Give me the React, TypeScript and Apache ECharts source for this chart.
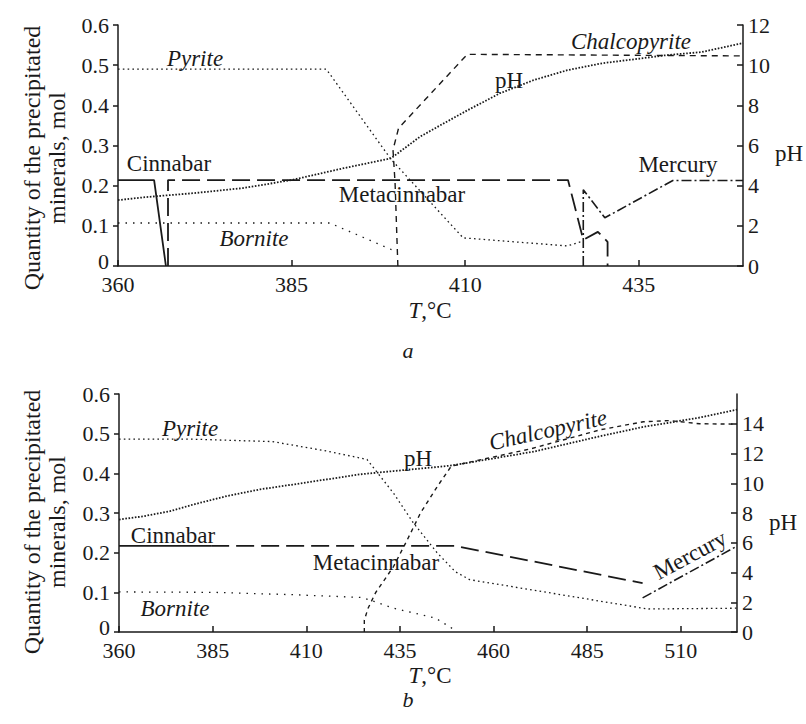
import React, { useEffect, useRef } from 'react';
import * as echarts from 'echarts';

const FONT = "'Liberation Serif', 'Times New Roman', Times, serif";
const INK = '#1a1a1a';

// ---------- Panel a (T 360–450 °C) ----------
const pyriteA = [[360, 0.49], [390, 0.49], [399.3, 0.266], [409.7, 0.07], [424.7, 0.05], [427, 0.062]];
const borniteA = [[360, 0.107], [390.5, 0.107], [399.5, 0.04]];
const chalcopyriteA = [[400.3, 0], [399.9, 0.206], [399.6, 0.289], [400.4, 0.343], [410.3, 0.527], [450, 0.523]];
const cinnabarA = [[360, 0.214], [365.2, 0.214], [366.9, 0]];
const metacinnabarA = [[367.2, 0], [367.2, 0.214], [424.8, 0.214], [427, 0.065], [429.1, 0.085], [430.5, 0.06], [430.5, 0]];
const mercuryA = [[427, 0], [427, 0.19], [430.1, 0.12], [439.9, 0.213], [450, 0.213]];
const pHA = [[360, 3.28], [364, 3.43], [371, 3.63], [378, 3.88], [385, 4.28], [392.5, 4.87], [399.3, 5.36], [403.5, 6.44], [406.9, 7.1], [410.3, 7.75], [415, 8.6], [419.8, 9.25], [424.7, 9.75], [429.8, 10.1], [434.5, 10.3], [439, 10.5], [444, 10.65], [450, 11.1]];

// ---------- Panel b (T 360–525 °C) ----------
const pyriteB = [[360, 0.486], [380, 0.486], [401, 0.48], [415.6, 0.456], [426.2, 0.435], [433.3, 0.35], [438.6, 0.275], [444.9, 0.2], [449.8, 0.152], [453.6, 0.132], [501.2, 0.058], [525, 0.06]];
const borniteB = [[360, 0.101], [385, 0.1], [406.5, 0.094], [425, 0.087], [433.3, 0.06], [444.5, 0.035], [450, 0.003]];
const chalcopyriteB = [[425.5, 0], [425.5, 0.03], [426.5, 0.06], [428.5, 0.099], [433.3, 0.165], [437, 0.233], [440.5, 0.3], [445, 0.367], [448.7, 0.418], [470, 0.462], [488.6, 0.51], [500, 0.53], [507, 0.533], [515, 0.525], [525, 0.524]];
const cinnabarB = [[360, 0.217], [384.6, 0.217]];
const metacinnabarB = [[384.6, 0.217], [449.8, 0.217], [499.8, 0.123]];
const mercuryB = [[499.8, 0.086], [524.7, 0.215]];
const pHB = [[360, 7.56], [366.5, 7.78], [373.6, 8.12], [380, 8.58], [388.8, 9.14], [397.7, 9.59], [406.6, 9.92], [415.5, 10.26], [424.4, 10.6], [433.3, 10.82], [446, 11.12], [449, 11.2], [470.8, 12.13], [488.6, 13.17], [500.2, 13.8], [506.4, 14.05], [515.3, 14.43], [525, 14.95]];

// axis ranges
const tRangeA = [360, 450];
const tRangeB = [360, 525];
const qtyRange = [0, 0.6];
const pHRangeA = [0, 12];
const pHRangeB = [0, 16];

const DOTS_FINE = [1.6, 3.2];
const DOTS_SPARSE = [1.5, 6];
const DOTS_DENSE = [1.6, 1.6];
const SHORT_DASH = [6, 5];
const LONG_DASH = [18, 7];
const DASH_DOT = [10, 3, 2, 3];

function ln(name: string, data: number[][], xi: number, yi: number, type: any, width: number) {
  return {
    type: 'line', name, data, xAxisIndex: xi, yAxisIndex: yi,
    symbol: 'none', showSymbol: false, silent: true, animation: false,
    lineStyle: { color: INK, width, type, cap: 'butt' }, z: 3,
  };
}

function xAxis(gridIndex: number, range: number[], margin: number) {
  return {
    type: 'value', gridIndex, min: range[0], max: range[1], interval: 25,
    axisLine: { onZero: false, lineStyle: { color: INK, width: 1.5 } },
    axisTick: { inside: true, length: 6, lineStyle: { color: INK, width: 1.5 } },
    axisLabel: { color: INK, fontFamily: FONT, fontSize: 22, lineHeight: 18, margin, showMaxLabel: false },
    splitLine: { show: false },
  };
}

function yLeft(gridIndex: number, range: number[]) {
  return {
    type: 'value', gridIndex, position: 'left', min: range[0], max: range[1], interval: 0.1,
    axisLine: { show: true, onZero: false, lineStyle: { color: INK, width: 1.5 } },
    axisTick: { show: true, inside: false, length: 5, lineStyle: { color: INK, width: 1.5 } },
    axisLabel: {
      color: INK, fontFamily: FONT, fontSize: 22, lineHeight: 17, margin: 9,
      formatter: (v: number) => (v === 0 ? '{z|0}' : v.toFixed(1)),
      rich: { z: { fontFamily: FONT, fontSize: 22, lineHeight: 17, padding: [0, 0, 10, 0] } },
    },
    splitLine: { show: false },
  };
}

function yRight(gridIndex: number, range: number[], showMax: boolean) {
  return {
    type: 'value', gridIndex, position: 'right', min: range[0], max: range[1], interval: 2,
    axisLine: { show: true, onZero: false, lineStyle: { color: INK, width: 1.5 } },
    axisTick: { show: true, inside: true, length: 6, lineStyle: { color: INK, width: 1.5 } },
    axisLabel: { color: INK, fontFamily: FONT, fontSize: 22, lineHeight: 17, margin: 5, showMaxLabel: showMax },
    splitLine: { show: false },
  };
}

function txt(text: string, x: number, y: number, opts: any = {}) {
  return {
    type: 'text', x, y, rotation: opts.rotation || 0, silent: true, z: 10,
    style: {
      text, fill: INK, fontFamily: FONT, fontSize: opts.size || 23,
      fontStyle: opts.italic ? 'italic' : 'normal',
      align: 'center', verticalAlign: 'middle', lineHeight: opts.lineHeight || 20, rich: opts.rich,
    },
  };
}

export default function App() {
  const ref = useRef<HTMLDivElement>(null);
  useEffect(() => {
    if (!ref.current) return;
    const chart = echarts.init(ref.current, null, { renderer: 'svg' });
    const yTitle = 'Quantity of the precipitated\nminerals, mol';
    const tRich = { i: { fontStyle: 'italic', fontFamily: FONT, fontSize: 23, fill: INK, lineHeight: 20 } };
    chart.setOption({
      animation: false,
      backgroundColor: '#fff',
      textStyle: { fontFamily: FONT },
      grid: [
        { left: 118, top: 25, width: 625, height: 241 },
        { left: 119, top: 394, width: 618, height: 238 },
      ],
      xAxis: [xAxis(0, tRangeA, 9), xAxis(1, tRangeB, 9)],
      yAxis: [yLeft(0, qtyRange), yRight(0, pHRangeA, true), yLeft(1, qtyRange), yRight(1, pHRangeB, false)],
      series: [
        ln('Pyrite a', pyriteA, 0, 0, DOTS_FINE, 1.3),
        ln('Bornite a', borniteA, 0, 0, DOTS_SPARSE, 1.3),
        ln('Chalcopyrite a', chalcopyriteA, 0, 0, SHORT_DASH, 1.4),
        ln('Cinnabar a', cinnabarA, 0, 0, 'solid', 1.8),
        ln('Metacinnabar a', metacinnabarA, 0, 0, LONG_DASH, 1.8),
        ln('Mercury a', mercuryA, 0, 0, DASH_DOT, 1.6),
        ln('pH a', pHA, 0, 1, DOTS_DENSE, 1.8),
        ln('Pyrite b', pyriteB, 1, 2, DOTS_FINE, 1.3),
        ln('Bornite b', borniteB, 1, 2, DOTS_SPARSE, 1.3),
        ln('Chalcopyrite b', chalcopyriteB, 1, 2, [4, 4], 1.4),
        ln('Cinnabar b', cinnabarB, 1, 2, 'solid', 1.8),
        ln('Metacinnabar b', metacinnabarB, 1, 2, LONG_DASH, 1.8),
        ln('Mercury b', mercuryB, 1, 2, DASH_DOT, 1.6),
        ln('pH b', pHB, 1, 3, DOTS_DENSE, 1.8),
      ],
      graphic: [
        txt(yTitle, 44, 158, { rotation: Math.PI / 2, lineHeight: 25, size: 24 }),
        txt(yTitle, 44, 522, { rotation: Math.PI / 2, lineHeight: 25, size: 24 }),
        txt('pH', 789, 153),
        txt('pH', 783, 522),
        txt('{i|T},°C', 430, 310, { rich: tRich }),
        txt('{i|T},°C', 430, 675, { rich: tRich }),
        txt('a', 408, 350, { italic: true, size: 22 }),
        txt('b', 408, 699, { italic: true, size: 22 }),
        // panel a labels
        txt('Pyrite', 195, 58, { italic: true }),
        txt('Cinnabar', 169, 163),
        txt('Metacinnabar', 402, 194),
        txt('Bornite', 254, 238, { italic: true }),
        txt('pH', 509, 80),
        txt('Chalcopyrite', 631, 41, { italic: true }),
        txt('Mercury', 678, 164),
        // panel b labels
        txt('Pyrite', 190, 428, { italic: true }),
        txt('pH', 418, 458),
        txt('Cinnabar', 173, 535),
        txt('Metacinnabar', 376, 562),
        txt('Bornite', 175, 608, { italic: true }),
        txt('Chalcopyrite', 548, 430, { italic: true, rotation: 0.22 }),
        txt('Mercury', 690, 555, { rotation: 0.49 }),
      ],
    });
    return () => chart.dispose();
  }, []);
  return <div ref={ref} style={{ position: 'absolute', left: 0, top: 0, width: 806, height: 724 }} />;
}
